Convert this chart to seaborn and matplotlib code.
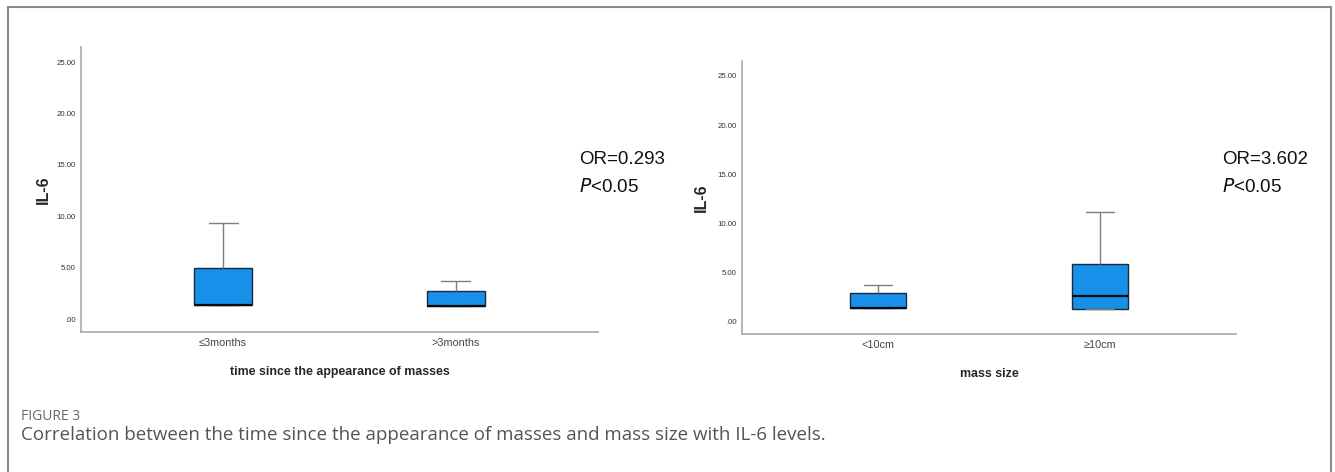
import matplotlib
matplotlib.use('Agg')
import matplotlib.pyplot as plt
from matplotlib.patches import Rectangle
import numpy as np
import pandas as pd
import seaborn as sns

# five-number summaries: min, Q1, median, Q3, max
time_groups = ['≤3months', '>3months']
time_le3 = [1.33, 1.33, 1.33, 4.99, 9.37]
time_gt3 = [1.30, 1.30, 1.30, 2.72, 3.70]

size_groups = ['<10cm', '≥10cm']
size_lt10 = [1.39, 1.39, 1.39, 2.91, 3.76]
size_ge10 = [1.35, 1.35, 2.64, 5.92, 11.14]

ytick_vals = [0, 5, 10, 15, 20, 25]
ytick_labels = ['.00', '5.00', '10.00', '15.00', '20.00', '25.00']

box_color = '#1690e8'

sns.set_style('white')
plt.rcParams['font.family'] = ['Liberation Sans', 'DejaVu Sans']

fig = plt.figure(figsize=(13.35, 4.72), dpi=100)

# outer frame of the figure panel
fig.patches.append(Rectangle((8 / 1335, -0.1), 1323 / 1335, 1.1 - 7 / 472,
                             transform=fig.transFigure, fill=False,
                             edgecolor='#8a8a8a', lw=1.5))


def make_df(groups, a, b):
    return pd.DataFrame({'group': [groups[0]] * len(a) + [groups[1]] * len(b),
                         'IL6': a + b})


def draw_panel(ax, df, order, xlabel, ylim, or_text, or_x, ylab_x):
    sns.boxplot(data=df, x='group', y='IL6', order=order, ax=ax,
                color=box_color, saturation=1, width=0.25, whis=1.5,
                showfliers=False,
                boxprops=dict(edgecolor='#1b2a38', linewidth=1.0),
                whiskerprops=dict(color='#7f7f7f', linewidth=1.0),
                capprops=dict(color='#7f7f7f', linewidth=1.0),
                medianprops=dict(color='#0a0a0a', linewidth=1.6))
    ax.set_xlim(-0.61, 1.61)
    ax.set_ylim(*ylim)
    ax.set_yticks(ytick_vals)
    ax.set_yticklabels(ytick_labels)
    ax.tick_params(axis='y', length=0, labelsize=5.6, labelcolor='#333333', pad=4)
    ax.tick_params(axis='x', length=0, labelsize=7.8, labelcolor='#444444', pad=4)
    for s in ['top', 'right']:
        ax.spines[s].set_visible(False)
    for s in ['left', 'bottom']:
        ax.spines[s].set_color('#a8a8a8')
        ax.spines[s].set_linewidth(1.2)
    ax.set_xlabel(xlabel, fontsize=8.9, fontweight='bold', labelpad=13)
    ax.set_ylabel('IL-6', fontsize=11.5, fontweight='bold')
    ax.yaxis.set_label_coords(ylab_x, 0.5)
    fig.text(or_x, 1 - 160 / 472, or_text, fontsize=13.5, va='center', ha='left',
             color='#111111')
    fig.text(or_x, 1 - 187 / 472, r'$\it{P}$<0.05', fontsize=13.5, va='center',
             ha='left', color='#111111')


ax1 = fig.add_axes([81 / 1335, 140 / 472, 517 / 1335, 285 / 472])
draw_panel(ax1, make_df(time_groups, time_le3, time_gt3), time_groups,
           'time since the appearance of masses', (-1.26, 26.46),
           'OR=0.293', 579 / 1335, -0.058)

ax2 = fig.add_axes([742 / 1335, 138 / 472, 494 / 1335, 273 / 472])
draw_panel(ax2, make_df(size_groups, size_lt10, size_ge10), size_groups,
           'mass size', (-1.22, 26.5), 'OR=3.602', 1222 / 1335, -0.067)

fig.text(21 / 1335, 1 - 420 / 472, 'FIGURE 3', fontsize=10, color='#666666',
         va='baseline', family=['Open Sans', 'DejaVu Sans'])
fig.text(21 / 1335, 1 - 440 / 472,
         'Correlation between the time since the appearance of masses and mass size with IL-6 levels.',
         fontsize=13.5, color='#555555', va='baseline',
         family=['Open Sans', 'DejaVu Sans'])

fig.savefig('out.png', dpi=100)
